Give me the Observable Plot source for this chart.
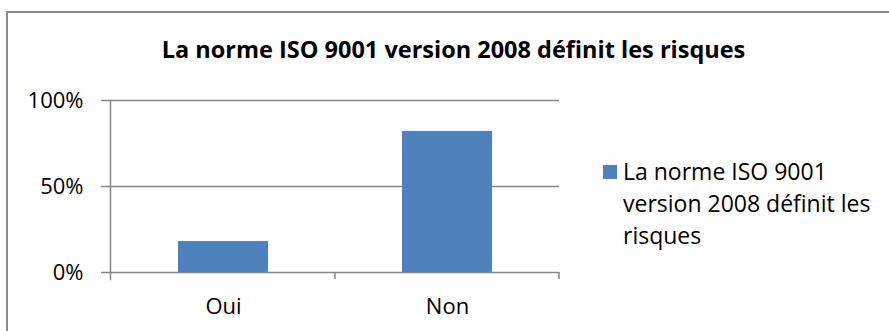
<!DOCTYPE html>
<html><head><meta charset="utf-8">
<script src="https://cdn.jsdelivr.net/npm/d3@7"></script>
<script src="https://cdn.jsdelivr.net/npm/@observablehq/plot@0.6"></script>
<style>
body{margin:0;background:#fff;}
#wrap{position:relative;width:889px;height:331px;overflow:hidden;font-family:"Open Sans", sans-serif;color:#000;}
#border{position:absolute;left:6px;top:11px;width:900px;height:400px;border:2px solid #8c8c8c;box-sizing:border-box;}
#title{position:absolute;left:0;width:907px;top:34px;text-align:center;font-weight:bold;font-size:23.5px;line-height:30px;white-space:nowrap;}
#chart{position:absolute;left:0;top:0;}
#legend{position:absolute;left:603px;top:155px;width:285px;}
#legend .sw{position:absolute;left:0;top:10px;width:14px;height:14px;background:#4F81BD;}
#legend .tx{position:absolute;left:20px;top:0;width:265px;font-size:23px;line-height:32px;}
</style></head>
<body>
<div id="wrap">
  <div id="border"></div>
  <div id="title"></div>
  <div id="chart"></div>
  <div id="legend"><div class="sw"></div><div class="tx"></div></div>
</div>
<script>
const titleText = "La norme ISO 9001 version 2008 définit les risques";
const seriesName = "La norme ISO 9001 version 2008 définit les risques";
const categories = ["Oui", "Non"];
const values = [18, 82];
const yTicks = [0, 50, 100];
const barColor = "#4F81BD";
const gridColor = "#868686";

document.getElementById("title").textContent = titleText;
document.querySelector("#legend .tx").textContent = seriesName;

const data = categories.map((c, i) => ({cat: c, value: values[i]}));

const plot = Plot.plot({
  width: 600, height: 331,
  marginLeft: 110, marginRight: 41, marginTop: 100, marginBottom: 59,
  style: {fontFamily: "'Open Sans', sans-serif", fontSize: "23px", color: "#000", background: "transparent", overflow: "visible"},
  x: {domain: categories, paddingInner: 0.6, paddingOuter: 0.3, axis: null},
  y: {domain: [0, 100], axis: null},
  marks: [
    Plot.ruleY(yTicks, {stroke: gridColor, strokeWidth: 1.5}),
    Plot.barY(data, {x: "cat", y: "value", fill: barColor}),
    Plot.axisY(yTicks, {tickSize: 9, tickPadding: 18, stroke: gridColor, strokeWidth: 1.5, tickFormat: d => d + "%", fontSize: 22, label: null}),
    Plot.axisX({tickSize: 0, tickPadding: 26, fontSize: 22, label: null}),
    Plot.frame({anchor: "left", stroke: gridColor, strokeWidth: 1.5, insetBottom: -7})
  ]
});
document.getElementById("chart").appendChild(plot);

// category boundary tick marks on the x axis, positioned from the plot's own scales
const xs = plot.scale("x");
const ys = plot.scale("y");
const y0 = ys.apply(0);
const half = xs.step / 2;
const bounds = categories.map(c => xs.apply(c) + xs.bandwidth / 2 + half);
d3.select(plot).append("g")
  .attr("stroke", gridColor).attr("stroke-width", 1.5)
  .selectAll("line").data(bounds).join("line")
  .attr("x1", d => d).attr("x2", d => d)
  .attr("y1", y0).attr("y2", y0 + 7);
</script>
</body></html>
